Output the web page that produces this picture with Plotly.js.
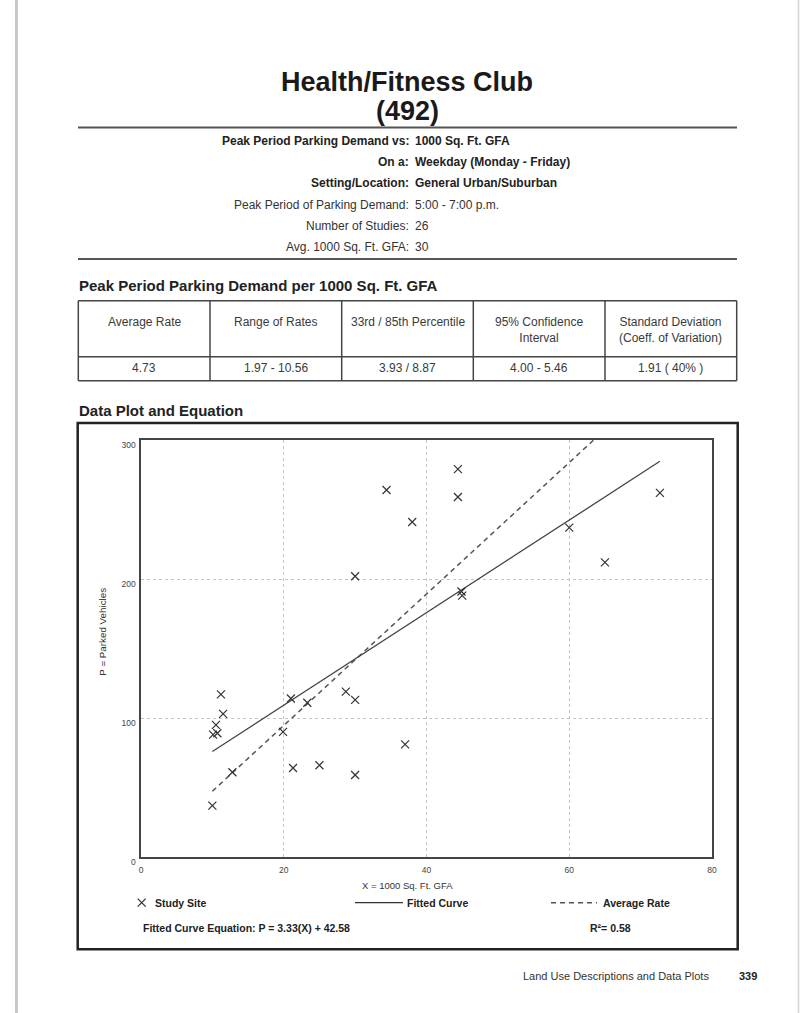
<!DOCTYPE html>
<html>
<head>
<meta charset="utf-8">
<script src="https://cdn.plot.ly/plotly-3.0.1.min.js"></script>
<style>
  html, body { margin: 0; padding: 0; background: #ffffff; }
  #chart { width: 806px; height: 1013px; }
</style>
</head>
<body>
<div id="chart"></div>
<script>
// ---------------- DATA ----------------
const studyX = [10.0, 10.1, 10.7, 10.5, 11.2, 11.5, 12.8, 19.9, 21.0, 21.3, 23.3, 25.0, 28.7, 30.0, 30.0, 37.0,
                30.0, 34.4, 38.0, 44.4, 44.4, 44.9, 45.0, 60.0, 65.0, 72.7];
const studyY = [37, 88, 89, 95, 117, 103, 61, 90, 114, 64, 111, 66, 119, 113, 59, 81,
                202, 264, 241, 279, 259, 191, 188, 237, 212, 262];
const fitSlope = 3.33;
const fitIntercept = 42.58;
const averageRate = 4.73;
const rSquared = 0.58;

const xTickVals = [0, 20, 40, 60, 80];
const yTickVals = [0, 100, 200, 300];

const titleLines = ["Health/Fitness Club", "(492)"];
const infoLabels = ["Peak Period Parking Demand vs:", "On a:", "Setting/Location:",
                    "Peak Period of Parking Demand:", "Number of Studies:", "Avg. 1000 Sq. Ft. GFA:"];
const infoValues = ["1000 Sq. Ft. GFA", "Weekday (Monday - Friday)", "General Urban/Suburban",
                    "5:00 - 7:00 p.m.", "26", "30"];
const infoBold = [true, true, true, false, false, false];

const tableTitle = "Peak Period Parking Demand per 1000 Sq. Ft. GFA";
const tableHeaders = ["Average Rate", "Range of Rates", "33rd / 85th Percentile",
                      "95% Confidence<br>Interval", "Standard Deviation<br>(Coeff. of Variation)"];
const tableValues = ["4.73", "1.97 - 10.56", "3.93 / 8.87", "4.00 - 5.46", "1.91 ( 40% )"];

const plotSectionTitle = "Data Plot and Equation";
const xAxisTitle = "X = 1000 Sq. Ft. GFA";
const yAxisTitle = "P = Parked Vehicles";
const legendNames = ["Study Site", "Fitted Curve", "Average Rate"];
const footerText = "Land Use Descriptions and Data Plots";
const pageNumber = "339";

// ---------------- HELPERS ----------------
const W = 806, H = 1013;
const px = x => x / W;
const py = y => 1 - y / H;
const FONT = "Liberation Sans, Arial, Helvetica, sans-serif";

const annotations = [];
const shapes = [];
function txt(x, y, text, opts) {
  opts = opts || {};
  annotations.push({
    xref: "paper", yref: "paper", x: px(x), y: py(y),
    text: text, showarrow: false, borderpad: 0,
    xanchor: opts.xanchor || "center", yanchor: opts.yanchor || "middle",
    align: opts.align || "center", textangle: opts.angle || 0,
    font: { family: FONT, size: opts.size || 12, color: opts.color || "#222" }
  });
}
function hline(x0, x1, y, w, c, dash) {
  shapes.push({ type: "line", xref: "paper", yref: "paper",
    x0: px(x0), x1: px(x1), y0: py(y), y1: py(y),
    line: { width: w, color: c, dash: dash || "solid" } });
}
function vline(x, y0, y1, w, c) {
  shapes.push({ type: "line", xref: "paper", yref: "paper",
    x0: px(x), x1: px(x), y0: py(y0), y1: py(y1),
    line: { width: w, color: c } });
}

// ---------------- PAGE DECORATION ----------------
vline(16.5, 0, H, 3, "#c8c8c8");
vline(798.5, 0, H, 1.5, "#d4d4d4");

// Title
txt(407, 82, "<b>" + titleLines[0] + "</b>", { size: 27, color: "#1a1a1a" });
txt(407, 111, "<b>" + titleLines[1] + "</b>", { size: 27, color: "#1a1a1a" });
hline(78, 737, 127.5, 2, "#555");

// Info rows
const infoY = [141, 162.3, 183.3, 205, 225.7, 246.7];
infoLabels.forEach((lab, i) => {
  const b = infoBold[i];
  txt(410, infoY[i], b ? "<b>" + lab + "</b>" : lab, { xanchor: "right", size: 12, color: b ? "#222" : "#333" });
  txt(414, infoY[i], b ? "<b>" + infoValues[i] + "</b>" : infoValues[i], { xanchor: "left", size: 12, color: b ? "#222" : "#333" });
});
hline(78, 737, 259, 2, "#555");

// Table
txt(78, 285, "<b>" + tableTitle + "</b>", { xanchor: "left", size: 15, color: "#222" });
const colEdges = [78.3, 210, 341.7, 473.3, 605, 736.7];
const tTop = 300.7, tMid = 356.7, tBot = 380.7;
hline(colEdges[0], colEdges[5], tTop, 1.5, "#444");
hline(colEdges[0], colEdges[5], tMid, 1.5, "#444");
hline(colEdges[0], colEdges[5], tBot, 1.5, "#444");
colEdges.forEach(x => vline(x, tTop, tBot, 1.5, "#444"));
tableHeaders.forEach((h, i) => {
  const cx = (colEdges[i] + colEdges[i + 1]) / 2;
  txt(cx, 314.2, h, { yanchor: "top", size: 12, color: "#3a3a3a" });
  txt(cx, 368.3, tableValues[i], { size: 12, color: "#3a3a3a" });
});

// Plot section
txt(78, 410, "<b>" + plotSectionTitle + "</b>", { xanchor: "left", size: 15, color: "#222" });
shapes.push({ type: "rect", xref: "paper", yref: "paper",
  x0: px(77.7), x1: px(737.7), y0: py(423), y1: py(949.3),
  line: { width: 2.5, color: "#222" }, fillcolor: "rgba(0,0,0,0)" });

// Axis titles
txt(407, 885, xAxisTitle, { size: 9.5, color: "#333" });
txt(101.7, 632, yAxisTitle, { size: 9.8, color: "#333", angle: -90 });

// Legend (drawn)
const lgY = 902.7;
shapes.push({ type: "line", xref: "paper", yref: "paper", x0: px(137.7), x1: px(145.7), y0: py(lgY - 4), y1: py(lgY + 4), line: { width: 1.2, color: "#333" } });
shapes.push({ type: "line", xref: "paper", yref: "paper", x0: px(137.7), x1: px(145.7), y0: py(lgY + 4), y1: py(lgY - 4), line: { width: 1.2, color: "#333" } });
txt(154, lgY, "<b>" + legendNames[0] + "</b>", { xanchor: "left", size: 10.5 });
hline(355, 403, lgY, 1.3, "#333");
txt(406, lgY, "<b>" + legendNames[1] + "</b>", { xanchor: "left", size: 10.5 });
hline(551, 597, lgY, 1.5, "#555", "5px,4px");
txt(601.7, lgY, "<b>" + legendNames[2] + "</b>", { xanchor: "left", size: 10.5 });

txt(141.7, 928.3, "<b>Fitted Curve Equation: P = " + fitSlope.toFixed(2) + "(X) + " + fitIntercept.toFixed(2) + "</b>", { xanchor: "left", size: 10.5 });
txt(589, 928.3, "<b>R²= " + rSquared.toFixed(2) + "</b>", { xanchor: "left", size: 10.5 });

// Footer
txt(521.7, 976, footerText, { xanchor: "left", size: 11, color: "#333" });
txt(738, 976, "<b>" + pageNumber + "</b>", { xanchor: "left", size: 11, color: "#222" });

// ---------------- TRACES ----------------
const xMin = Math.min.apply(null, studyX);
const xMax = Math.max.apply(null, studyX);
const lineX = [xMin, xMax];

const traces = [
  {
    x: lineX, y: lineX.map(v => averageRate * v),
    type: "scatter", mode: "lines", name: legendNames[2],
    line: { color: "#555", width: 1.5, dash: "5px,4px" }, hoverinfo: "skip"
  },
  {
    x: lineX, y: lineX.map(v => fitSlope * v + fitIntercept),
    type: "scatter", mode: "lines", name: legendNames[1],
    line: { color: "#444", width: 1.3 }, hoverinfo: "skip"
  },
  {
    x: studyX, y: studyY, type: "scatter", mode: "markers", name: legendNames[0],
    marker: { symbol: "x-thin-open", size: 8, color: "#333", line: { width: 1.2, color: "#333" } },
    cliponaxis: false
  }
];

const layout = {
  width: W, height: H,
  margin: { l: 0, r: 0, t: 0, b: 0 },
  paper_bgcolor: "#ffffff", plot_bgcolor: "#ffffff",
  showlegend: false,
  xaxis: {
    domain: [px(141), px(712)],
    range: [0, 80], tickvals: xTickVals, ticktext: xTickVals.map(String),
    showgrid: true, gridcolor: "#c4c4c4", griddash: "dot", gridwidth: 1,
    zeroline: false, showline: true, mirror: true, linecolor: "#444", linewidth: 1.6,
    ticks: "", ticklabelstandoff: 4, tickfont: { family: FONT, size: 8.5, color: "#444" }
  },
  yaxis: {
    domain: [py(857), py(440)],
    range: [0, 300], tickvals: yTickVals, ticktext: yTickVals.map(String),
    showgrid: true, gridcolor: "#c4c4c4", griddash: "dot", gridwidth: 1,
    zeroline: false, showline: true, mirror: true, linecolor: "#444", linewidth: 1.6,
    ticks: "", ticklabelshift: 5, ticklabelstandoff: 2, tickfont: { family: FONT, size: 8.5, color: "#444" }
  },
  annotations: annotations,
  shapes: shapes,
  font: { family: FONT }
};

Plotly.newPlot("chart", traces, layout, { displayModeBar: false, staticPlot: true });
</script>
</body>
</html>
